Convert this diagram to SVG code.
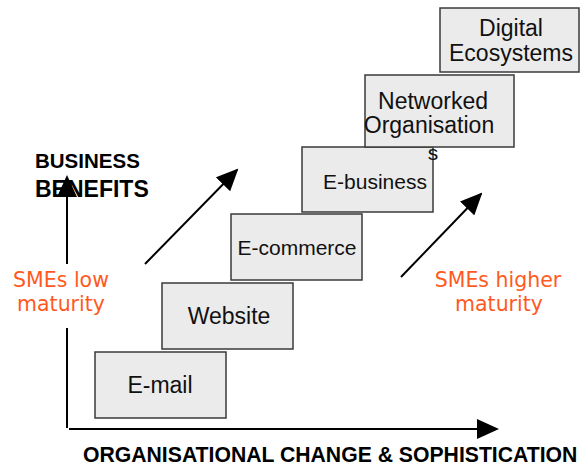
<svg xmlns="http://www.w3.org/2000/svg" width="581" height="466" viewBox="0 0 581 466">
<style>
.box{fill:#ebebeb;stroke:#3a3a3a;stroke-width:1.5}
.lbl{font-family:"Liberation Sans",Arial,sans-serif;fill:#111;text-anchor:middle}
.org{font-family:"DejaVu Sans",Verdana,sans-serif;fill:#ff5a1e;font-size:20.5px;text-anchor:middle}
.ax{font-family:"Liberation Sans",Arial,sans-serif;font-weight:bold;fill:#000}
.ln{stroke:#000;stroke-width:2;fill:none}
</style>
<defs>
<marker id="ah" viewBox="0 0 22 20" refX="20" refY="10" markerWidth="22" markerHeight="20" markerUnits="userSpaceOnUse" orient="auto">
<path d="M0,0 L22,10 L0,20 Z" fill="#000"/>
</marker>
</defs>
<g id="n-email"><rect class="box" x="95" y="352" width="131" height="66"/><text class="lbl" x="160" y="393" font-size="23">E-mail</text></g>
<g id="n-website"><rect class="box" x="162" y="283" width="131" height="66"/><text class="lbl" x="229" y="324" font-size="23">Website</text></g>
<g id="n-ecommerce"><rect class="box" x="231" y="214" width="131" height="66"/><text class="lbl" x="297" y="255" font-size="21">E-commerce</text></g>
<g id="n-ebusiness"><rect class="box" x="302" y="147" width="131" height="65"/><text class="lbl" x="375" y="189" font-size="21">E-business</text></g>
<g id="n-networked"><rect class="box" x="365" y="75" width="149" height="72"/><text class="lbl" x="433" y="109" font-size="23">Networked</text><text class="lbl" x="429" y="133" font-size="23">Organisation</text><text class="lbl" x="433" y="160" font-size="21">s</text></g>
<g id="n-digital"><rect class="box" x="440" y="8" width="139" height="64"/><text class="lbl" x="511" y="36" font-size="23">Digital</text><text class="lbl" x="511" y="61" font-size="23">Ecosystems</text></g>
<g id="connectors">
<line class="ln" x1="67" y1="428" x2="67" y2="328"/>
<line class="ln" x1="67" y1="264" x2="67" y2="177" marker-end="url(#ah)"/>
<line class="ln" x1="69" y1="429" x2="497" y2="429" marker-end="url(#ah)"/>
<line class="ln" x1="145" y1="264" x2="237" y2="170" marker-end="url(#ah)"/>
<line class="ln" x1="401" y1="277" x2="481" y2="194" marker-end="url(#ah)"/>
</g>
<g id="labels">
<text class="ax" x="35" y="168" font-size="20.5">BUSINESS</text>
<text class="ax" x="35" y="197" font-size="23">BENEFITS</text>
<text class="ax" x="83" y="462" font-size="21.2">ORGANISATIONAL CHANGE &amp; SOPHISTICATION</text>
<text class="org" x="61" y="287">SMEs low</text>
<text class="org" x="61" y="311">maturity</text>
<text class="org" x="498" y="287">SMEs higher</text>
<text class="org" x="499" y="311">maturity</text>
</g>
</svg>
